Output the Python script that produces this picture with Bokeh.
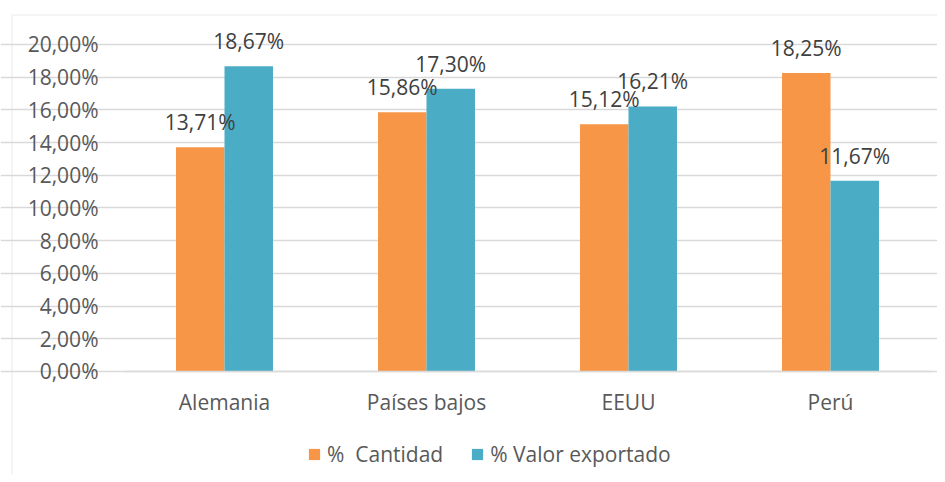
from bokeh.plotting import figure
from bokeh.models import (ColumnDataSource, Legend, LegendItem, FixedTicker,
                          Range1d, BoxAnnotation)
from bokeh.embed import file_html
from bokeh.resources import INLINE
from bokeh.core.properties import value

countries = ["Alemania", "Países bajos", "EEUU", "Perú"]
cantidad = [13.71, 15.86, 15.12, 18.25]
valor = [18.67, 17.30, 16.21, 11.67]
series_names = ["%  Cantidad", "% Valor exportado"]
y_ticks = [0, 2, 4, 6, 8, 10, 12, 14, 16, 18, 20]
y_tick_labels = ["0,00%", "2,00%", "4,00%", "6,00%", "8,00%", "10,00%",
                 "12,00%", "14,00%", "16,00%", "18,00%", "20,00%"]

ORANGE = "#F79646"
TEAL = "#4BACC6"
GRID = "#d9d9d9"
FONT = "Open Sans"
FS = "21px"
BAR_W = 0.24


def fmt(v):
    return f"{v:.2f}".replace(".", ",") + "%"


idx = list(range(len(countries)))
src = ColumnDataSource(dict(
    xc=[i - BAR_W / 2 for i in idx],
    xv=[i + BAR_W / 2 for i in idx],
    cantidad=cantidad,
    valor=valor,
    lab_c=[fmt(v) for v in cantidad],
    lab_v=[fmt(v) for v in valor],
))

# layout: one category = 202 px, 1 % = 16.35 px
p = figure(x_range=Range1d(-1.1089, 3.5297), y_range=Range1d(-6.30, 22.691),
           width=937, height=474, output_backend="svg", toolbar_location=None,
           min_border=0, min_border_left=0, min_border_right=0,
           min_border_top=0, min_border_bottom=0)
p.outline_line_color = None
p.background_fill_color = "white"

# chart-area border (left and top edges visible)
p.add_layout(BoxAnnotation(left=-1.052, top=21.80, right=5, bottom=-10,
                           fill_alpha=0, line_color=GRID, line_width=2,
                           level="underlay"))

r1 = p.vbar(x="xc", top="cantidad", width=BAR_W, source=src,
            fill_color=ORANGE, line_color=None)
r2 = p.vbar(x="xv", top="valor", width=BAR_W, source=src,
            fill_color=TEAL, line_color=None)

p.text(x="xc", y="cantidad", text="lab_c", source=src, text_align="center",
       text_baseline="alphabetic", y_offset=-25,
       text_font=value(FONT), text_font_size=FS, text_color="#404040")
p.text(x="xv", y="valor", text="lab_v", source=src, text_align="center",
       text_baseline="alphabetic", y_offset=-25,
       text_font=value(FONT), text_font_size=FS, text_color="#404040")

p.xgrid.grid_line_color = None
p.ygrid.ticker = FixedTicker(ticks=y_ticks)
p.ygrid.grid_line_color = GRID
p.ygrid.grid_line_width = 1.5
p.ygrid.bounds = (-0.5, 3.5)

p.yaxis.fixed_location = -0.5
p.yaxis.bounds = (0, 20)
p.yaxis.ticker = FixedTicker(ticks=y_ticks)
p.yaxis.major_label_overrides = {t: l for t, l in zip(y_ticks, y_tick_labels)}
p.yaxis.axis_line_color = None
p.yaxis.major_tick_line_color = None
p.yaxis.minor_tick_line_color = None
p.yaxis.major_label_standoff = 19

p.xaxis.fixed_location = 0
p.xaxis.bounds = (-0.5, 3.5)
p.xaxis.ticker = FixedTicker(ticks=idx)
p.xaxis.major_label_overrides = {i: c for i, c in zip(idx, countries)}
p.xaxis.axis_line_color = GRID
p.xaxis.axis_line_width = 1.5
p.xaxis.major_tick_line_color = None
p.xaxis.minor_tick_line_color = None
p.xaxis.major_label_standoff = 11

for ax in (p.xaxis, p.yaxis):
    ax.major_label_text_font = FONT
    ax.major_label_text_font_size = FS
    ax.major_label_text_color = "#595959"

legend = Legend(items=[LegendItem(label=series_names[0], renderers=[r1]),
                       LegendItem(label=series_names[1], renderers=[r2])],
                orientation="horizontal", location=(307, 6),
                glyph_width=14, glyph_height=14, label_standoff=6, spacing=27,
                padding=0, margin=0, border_line_color=None,
                background_fill_alpha=0,
                label_text_font=FONT, label_text_font_size=FS,
                label_text_color="#595959")
p.add_layout(legend)

open("out.html", "w").write(file_html(p, INLINE))
